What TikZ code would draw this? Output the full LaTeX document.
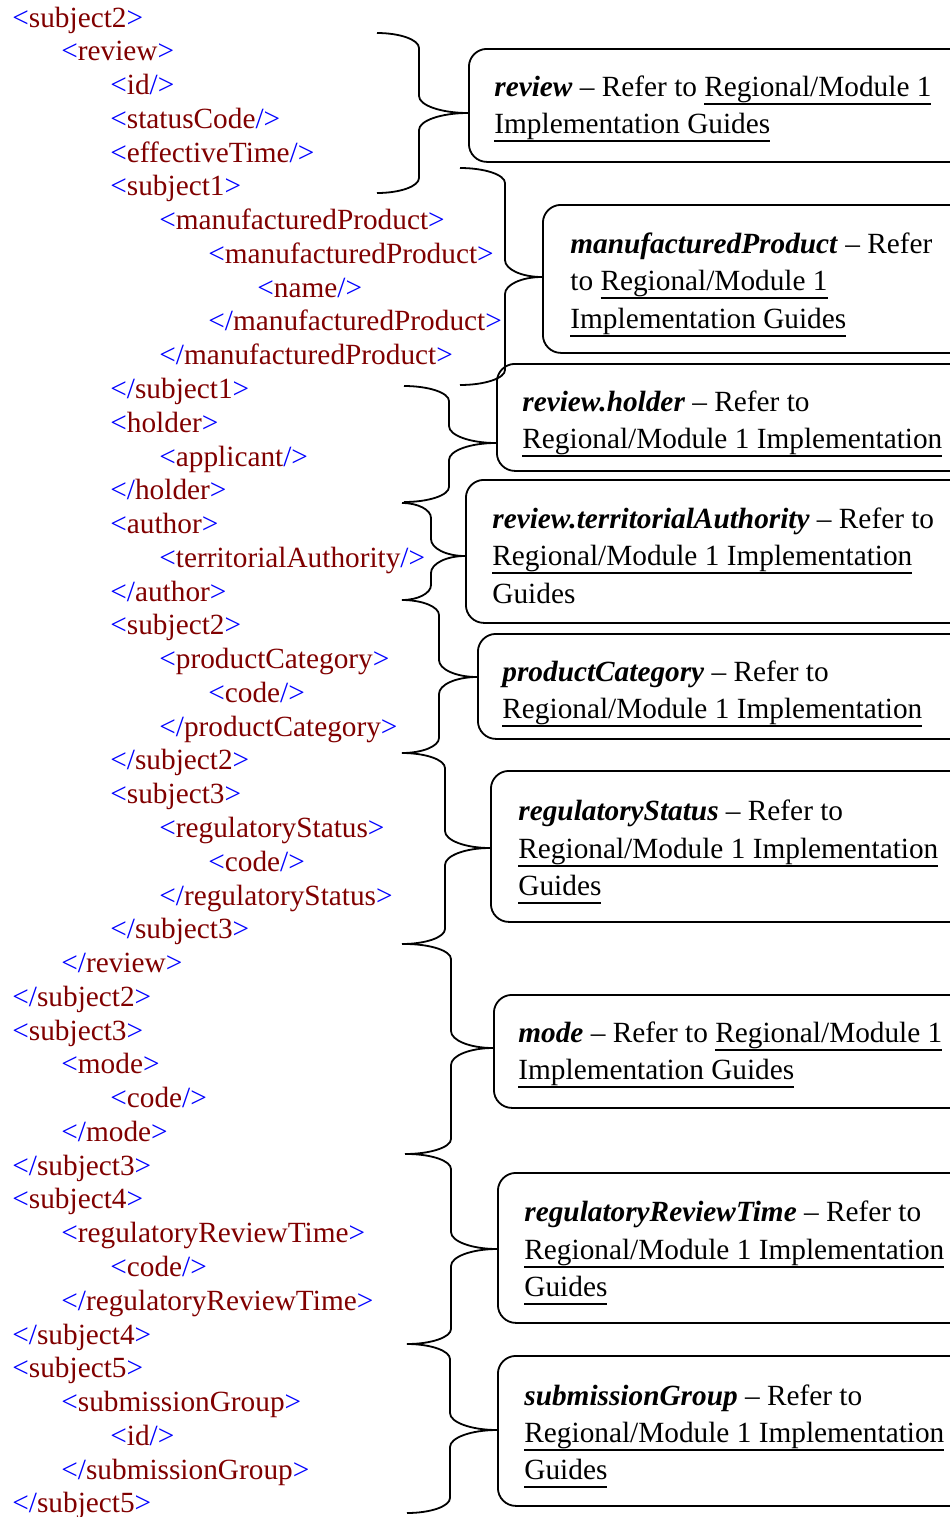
\documentclass[tikz,border=0pt]{standalone}
\usepackage{fontspec}
\setmainfont{Liberation Serif}
\definecolor{xblue}{RGB}{0,0,255}
\definecolor{xred}{RGB}{128,0,0}
\newcommand\tbl[1]{\textcolor{xblue}{#1}}
\newcommand\trd[1]{\textcolor{xred}{#1}}
\newcommand\xo[1]{\tbl{<}\trd{#1}\tbl{>}}
\newcommand\xc[1]{\tbl{</}\trd{#1}\tbl{>}}
\newcommand\xe[1]{\tbl{<}\trd{#1}\tbl{/>}}
\newcommand\nm[1]{\textbf{\textit{#1}}}
\newcommand\ulx[1]{\setbox0\hbox{#1}\rlap{\rule[-4.4pt]{\wd0}{0.8pt}}\box0}
\newcommand\rg{\ulx{Regional/Module 1}}
\newcommand\rgi{\ulx{Regional/Module 1 Implementation}}
\newcommand\ig{\ulx{Implementation Guides}}
\tikzset{
  xml/.style={anchor=base west, inner sep=0pt, font=\fontsize{14.65pt}{17pt}\selectfont},
  btxt/.style={anchor=base west, inner sep=0pt, font=\fontsize{14.65pt}{17pt}\selectfont},
  boxst/.style={draw, line width=0.9pt, rounded corners=9pt, anchor=north west, inner sep=0pt},
  bracest/.style={draw, line width=0.9pt, line join=round}
}
\newcommand\xl[3]{\node[xml] (x#1) at ({12+49*#2},{27+33.77*#1}) {#3};}
% box: name, left, top, bottom
\newcommand\bx[4]{\node[boxst, minimum width={(1010-#2)*0.5pt}, minimum height={(#4-#3)*0.5pt}] (#1) at (#2,#3) {};}
% brace: x0, ytop, xv, ybot, xtip, ytip, tip coordinate name
\newcommand\cbr[7]{%
  \draw[bracest] (#1,#2) .. controls ({#1+0.55*(#3-#1)},#2) and (#3,{#2+0.45*15}) .. (#3,{#2+15})
    -- (#3,{#6-17}) .. controls (#3,{#6-0.45*17}) and ({#3+0.45*(#5-#3)},#6) .. (#7)
    .. controls ({#3+0.45*(#5-#3)},#6) and (#3,{#6+0.45*17}) .. (#3,{#6+17})
    -- (#3,{#4-15}) .. controls (#3,{#4-0.45*15}) and ({#1+0.55*(#3-#1)},#4) .. (#1,#4);}
\begin{document}
\begin{tikzpicture}[x=0.5pt,y=-0.5pt]
\useasboundingbox (0,0) rectangle (949,1517);
% XML listing
\xl{0}{0}{\xo{subject2}}
\xl{1}{1}{\xo{review}}
\xl{2}{2}{\xe{id}}
\xl{3}{2}{\xe{statusCode}}
\xl{4}{2}{\xe{effectiveTime}}
\xl{5}{2}{\xo{subject1}}
\xl{6}{3}{\xo{manufacturedProduct}}
\xl{7}{4}{\xo{manufacturedProduct}}
\xl{8}{5}{\xe{name}}
\xl{9}{4}{\xc{manufacturedProduct}}
\xl{10}{3}{\xc{manufacturedProduct}}
\xl{11}{2}{\xc{subject1}}
\xl{12}{2}{\xo{holder}}
\xl{13}{3}{\xe{applicant}}
\xl{14}{2}{\xc{holder}}
\xl{15}{2}{\xo{author}}
\xl{16}{3}{\xe{territorialAuthority}}
\xl{17}{2}{\xc{author}}
\xl{18}{2}{\xo{subject2}}
\xl{19}{3}{\xo{productCategory}}
\xl{20}{4}{\xe{code}}
\xl{21}{3}{\xc{productCategory}}
\xl{22}{2}{\xc{subject2}}
\xl{23}{2}{\xo{subject3}}
\xl{24}{3}{\xo{regulatoryStatus}}
\xl{25}{4}{\xe{code}}
\xl{26}{3}{\xc{regulatoryStatus}}
\xl{27}{2}{\xc{subject3}}
\xl{28}{1}{\xc{review}}
\xl{29}{0}{\xc{subject2}}
\xl{30}{0}{\xo{subject3}}
\xl{31}{1}{\xo{mode}}
\xl{32}{2}{\xe{code}}
\xl{33}{1}{\xc{mode}}
\xl{34}{0}{\xc{subject3}}
\xl{35}{0}{\xo{subject4}}
\xl{36}{1}{\xo{regulatoryReviewTime}}
\xl{37}{2}{\xe{code}}
\xl{38}{1}{\xc{regulatoryReviewTime}}
\xl{39}{0}{\xc{subject4}}
\xl{40}{0}{\xo{subject5}}
\xl{41}{1}{\xo{submissionGroup}}
\xl{42}{2}{\xe{id}}
\xl{43}{1}{\xc{submissionGroup}}
\xl{44}{0}{\xc{subject5}}
% boxes
\bx{b1}{468}{48}{161}
\bx{b2}{542}{204}{352}
\bx{b3}{496}{363}{470}
\bx{b4}{465}{479}{622}
\bx{b5}{477}{633}{738}
\bx{b6}{490}{770}{921}
\bx{b7}{493}{994}{1107}
\bx{b8}{497}{1172}{1322}
\bx{b9}{497}{1355}{1505}
% box texts
\node[btxt] (t1a) at (494,96) {\nm{review} -- Refer to \rg};
\node[btxt] (t1b) at (494,133) {\ig};
\node[btxt] (t2a) at (570,253) {\nm{manufacturedProduct} -- Refer};
\node[btxt] (t2b) at (570,290) {to \rg};
\node[btxt] (t2c) at (570,328) {\ig};
\node[btxt] (t3a) at (522,411) {\nm{review.holder} -- Refer to};
\node[btxt] (t3b) at (522,448) {\rgi};
\node[btxt] (t4a) at (492,528) {\nm{review.territorialAuthority} -- Refer to};
\node[btxt] (t4b) at (492,565) {\rgi};
\node[btxt] (t4c) at (492,603) {Guides};
\node[btxt] (t5a) at (502,681) {\nm{productCategory} -- Refer to};
\node[btxt] (t5b) at (502,718) {\rgi};
\node[btxt] (t6a) at (518,820) {\nm{regulatoryStatus} -- Refer to};
\node[btxt] (t6b) at (518,858) {\rgi};
\node[btxt] (t6c) at (518,895) {\ulx{Guides}};
\node[btxt] (t7a) at (518,1042) {\nm{mode} -- Refer to \rg};
\node[btxt] (t7b) at (518,1079) {\ig};
\node[btxt] (t8a) at (524,1221) {\nm{regulatoryReviewTime} -- Refer to};
\node[btxt] (t8b) at (524,1259) {\rgi};
\node[btxt] (t8c) at (524,1296) {\ulx{Guides}};
\node[btxt] (t9a) at (524,1405) {\nm{submissionGroup} -- Refer to};
\node[btxt] (t9b) at (524,1442) {\rgi};
\node[btxt] (t9c) at (524,1479) {\ulx{Guides}};
% brace tips on the boxes' left edges
\coordinate (p1) at (468,113);
\coordinate (p2) at (542,277);
\coordinate (p3) at (496,443);
\coordinate (p4) at (465,556);
\coordinate (p5) at (477,677);
\coordinate (p6) at (490,848);
\coordinate (p7) at (493,1048);
\coordinate (p8) at (497,1249);
\coordinate (p9) at (497,1430);
% braces
\cbr{377}{33}{419}{193}{468}{113}{p1}
\cbr{460}{168}{505}{385}{542}{277}{p2}
\cbr{404}{386}{449}{502}{496}{443}{p3}
\cbr{402}{503}{431}{600}{465}{556}{p4}
\cbr{402}{600}{439}{753}{477}{677}{p5}
\cbr{402}{753}{445}{944}{490}{848}{p6}
\cbr{405}{944}{451}{1154}{493}{1048}{p7}
\cbr{407}{1154}{451}{1344}{497}{1249}{p8}
\cbr{407}{1344}{450}{1513}{497}{1430}{p9}
\end{tikzpicture}
\end{document}
